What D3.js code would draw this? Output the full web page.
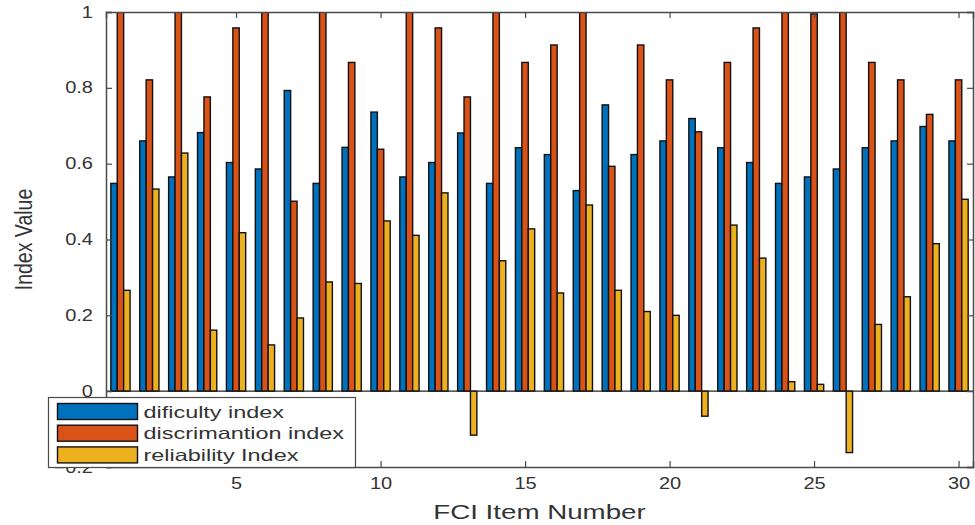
<!DOCTYPE html>
<html>
<head>
<meta charset="utf-8">
<script src="https://cdn.jsdelivr.net/npm/d3@7"></script>
<style>
  body { margin: 0; background: #fff; }
  text { font-family: "Liberation Sans", Arial, Helvetica, sans-serif; }
</style>
</head>
<body>
<div id="chart-area"></div>
<script>
// FCI item numbers 1..30
var items = d3.range(1, 31);

// values (discrimination > 1 is clipped by the axes)
var difficulty = [0.548, 0.660, 0.565, 0.682, 0.603, 0.586, 0.793, 0.548, 0.643, 0.736,
                  0.565, 0.603, 0.681, 0.548, 0.642, 0.624, 0.529, 0.755, 0.624, 0.660,
                  0.719, 0.642, 0.603, 0.548, 0.565, 0.586, 0.642, 0.660, 0.698, 0.660];
var discrimination = [1.05, 0.821, 1.05, 0.776, 0.958, 1.05, 0.501, 1.05, 0.867, 0.638,
                      1.05, 0.958, 0.776, 1.05, 0.867, 0.913, 1.05, 0.593, 0.913, 0.821,
                      0.684, 0.867, 0.958, 1.05, 0.995, 1.05, 0.867, 0.821, 0.730, 0.821];
var reliability = [0.266, 0.533, 0.628, 0.161, 0.418, 0.122, 0.193, 0.288, 0.284, 0.449,
                   0.411, 0.523, -0.116, 0.344, 0.428, 0.259, 0.491, 0.266, 0.210, 0.200,
                   -0.066, 0.438, 0.351, 0.025, 0.018, -0.162, 0.176, 0.249, 0.389, 0.506];

var seriesNames = ["dificulty index", "discrimantion index", "reliability Index"];
var seriesColors = ["#0072BD", "#D95319", "#EDB120"];

var xTicks = [5, 10, 15, 20, 25, 30];
var yTicks = [-0.2, 0, 0.2, 0.4, 0.6, 0.8, 1];

var W = 975, H = 525;
var margin = {left: 106, right: 2, top: 12, bottom: 58};
var width = W - margin.left - margin.right,
    height = H - margin.top - margin.bottom;

var axisColor = "#4a4a4a", textColor = "#333";

var svg = d3.select("#chart-area")
    .append("svg")
        .attr("width", W)
        .attr("height", H);

var group = svg.append("g")
    .attr("transform", "translate(" + margin.left + ", " + margin.top + ")");

// scales
var x = d3.scaleLinear().domain([0.5, 30.5]).range([0, width]);
var y = d3.scaleLinear().domain([-0.2, 1]).range([height, 0]);

// bars inside a group sit next to each other
var slot = 0.222;
var offsets = [-slot, 0, slot];

var table = [];
[difficulty, discrimination, reliability].forEach(function(vals, s){
    vals.forEach(function(v, i){
        table.push({item: items[i], value: v, s: s});
    });
});

group.append("clipPath")
    .attr("id", "plot-clip")
  .append("rect")
    .attr("width", width)
    .attr("height", height);

var plot = group.append("g").attr("clip-path", "url(#plot-clip)");

var bw = x(1 + slot) - x(1);
plot.selectAll("rect.bar")
    .data(table)
  .enter()
    .append("rect")
    .attr("class", "bar")
    .attr("x", function(d){ return x(d.item + offsets[d.s]) - bw / 2 })
    .attr("y", function(d){ return y(Math.max(0, d.value)) })
    .attr("width", bw)
    .attr("height", function(d){ return Math.abs(y(d.value) - y(0)) })
    .attr("fill", function(d){ return seriesColors[d.s] })
    .attr("stroke", "#111")
    .attr("stroke-width", 1.4);

// bar baseline
group.append("line")
    .attr("x1", 0).attr("x2", width)
    .attr("y1", y(0)).attr("y2", y(0))
    .attr("stroke", "#222")
    .attr("stroke-width", 1.2);

// axes (MATLAB style: inward ticks on all four sides)
var tl = 6;
var xAxisCall = d3.axisBottom(x).tickValues(xTicks).tickSize(-tl).tickPadding(14);
var xAxisTop = d3.axisTop(x).tickValues(xTicks).tickSize(-tl).tickFormat("");
var yAxisCall = d3.axisLeft(y).tickValues(yTicks).tickSize(-tl).tickPadding(13)
    .tickFormat(function(d){ return d3.format("")(+d.toFixed(1)) });
var yAxisRight = d3.axisRight(y).tickValues(yTicks).tickSize(-tl).tickFormat("");

var gx = group.append("g")
    .attr("class", "x axis")
    .attr("transform", "translate(0, " + height + ")")
    .call(xAxisCall);
group.append("g").attr("class", "x axis").call(xAxisTop);
var gy = group.append("g").attr("class", "y axis").call(yAxisCall);
group.append("g")
    .attr("class", "y axis")
    .attr("transform", "translate(" + width + ", 0)")
    .call(yAxisRight);

group.selectAll(".axis path")
    .attr("stroke", axisColor)
    .attr("stroke-width", 1.5);
group.selectAll(".axis line")
    .attr("stroke", axisColor)
    .attr("stroke-width", 1.2);

// tick labels: wide looking glyphs, so stretch horizontally
gx.selectAll(".tick text")
    .attr("fill", textColor)
    .attr("font-size", "16px")
    .attr("dy", "0.71em")
    .attr("y", 11)
    .attr("x", 0)
    .attr("transform", "scale(1.25, 1)");

gy.selectAll(".tick text")
    .attr("fill", textColor)
    .attr("font-size", "16px")
    .attr("x", 0)
    .attr("transform", "translate(-13, 0) scale(1.25, 1)");

// x label
group.append("text")
    .attr("transform", "translate(" + (width / 2) + ", " + (height + 52) + ") scale(1.32, 1)")
    .attr("font-size", "21px")
    .attr("text-anchor", "middle")
    .attr("fill", textColor)
    .text("FCI Item Number");

// y label
group.append("text")
    .attr("transform", "translate(-74, " + (height / 2) + ") rotate(-90) scale(1, 1.25)")
    .attr("font-size", "19.5px")
    .attr("text-anchor", "middle")
    .attr("fill", textColor)
    .text("Index Value");

// legend, lower left, drawn on top
var legend = svg.append("g")
    .attr("transform", "translate(48.5, 397.5)");

legend.append("rect")
    .attr("width", 307)
    .attr("height", 70)
    .attr("fill", "#fff")
    .attr("stroke", axisColor)
    .attr("stroke-width", 1.2);

var rows = legend.selectAll("g.row")
    .data(seriesNames)
  .enter()
    .append("g")
    .attr("class", "row")
    .attr("transform", function(d, i){ return "translate(0, " + (6 + i * 21.7) + ")" });

rows.append("rect")
    .attr("x", 9)
    .attr("width", 80)
    .attr("height", 16)
    .attr("fill", function(d, i){ return seriesColors[i] })
    .attr("stroke", "#111")
    .attr("stroke-width", 1.4);

rows.append("text")
    .attr("transform", "translate(95, 14) scale(1.42, 1)")
    .attr("font-size", "16.5px")
    .attr("fill", textColor)
    .text(function(d){ return d });
</script>
</body>
</html>
